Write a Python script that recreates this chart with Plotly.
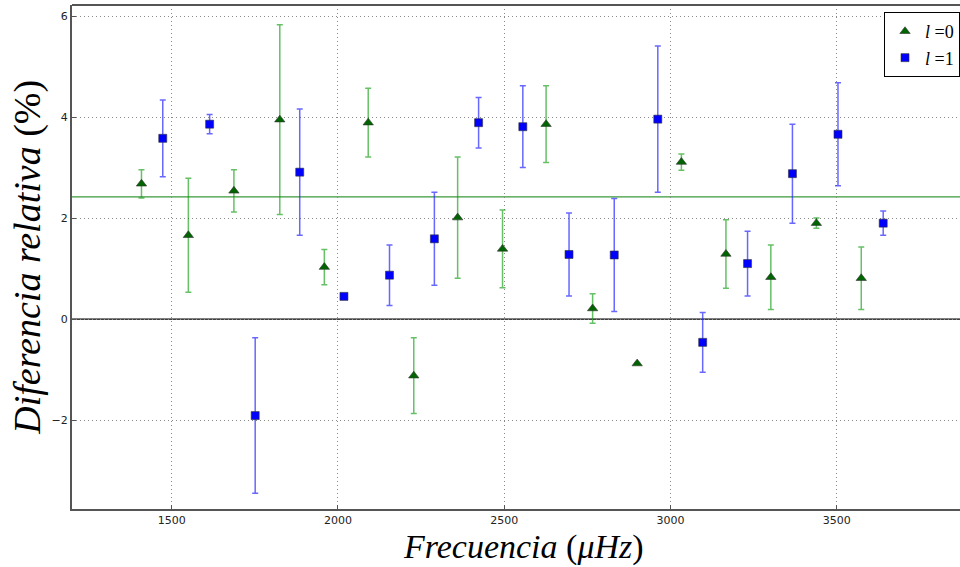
import plotly.graph_objects as go

# l = 0 modes: frequency (muHz), relative difference (%), error
freq_l0 = [1409, 1550, 1687, 1825, 1959, 2091, 2228, 2360, 2495, 2626,
           2766, 2900, 3033, 3167, 3302, 3439, 3574]
diff_l0 = [2.68, 1.66, 2.54, 3.95, 1.03, 3.89, -1.12, 2.01, 1.39, 3.86,
           0.21, -0.88, 3.11, 1.29, 0.83, 1.90, 0.81]
err_l0 = [0.28, 1.13, 0.42, 1.88, 0.35, 0.68, 0.75, 1.20, 0.77, 0.76,
          0.29, 0.0, 0.16, 0.68, 0.64, 0.10, 0.62]

# l = 1 modes
freq_l1 = [1473, 1614, 1751, 1885, 2018, 2155, 2290, 2423, 2556, 2695,
           2831, 2962, 3097, 3232, 3367, 3504, 3640]
diff_l1 = [3.58, 3.86, -1.91, 2.91, 0.45, 0.87, 1.59, 3.89, 3.81, 1.28,
           1.27, 3.96, -0.46, 1.10, 2.88, 3.66, 1.90]
err_l1 = [0.76, 0.19, 1.54, 1.25, 0.0, 0.60, 0.92, 0.50, 0.81, 0.82,
          1.12, 1.45, 0.59, 0.64, 0.98, 1.02, 0.24]

mean_level = 2.42
x_ticks = [1500, 2000, 2500, 3000, 3500]
y_ticks = [-2, 0, 2, 4, 6]

fig = go.Figure()

fig.add_trace(go.Scatter(
    x=freq_l0, y=diff_l0, mode="markers", name="<i>l</i> =0",
    marker=dict(symbol="triangle-up", size=9, color="#006400",
                line=dict(color="#333333", width=0.6)),
    error_y=dict(type="data", array=err_l0, visible=True,
                 color="rgba(0,150,0,0.6)", thickness=1.5, width=3),
))
fig.add_trace(go.Scatter(
    x=freq_l1, y=diff_l1, mode="markers", name="<i>l</i> =1",
    marker=dict(symbol="square", size=8, color="#0000ff",
                line=dict(color="#333333", width=0.6)),
    error_y=dict(type="data", array=err_l1, visible=True,
                 color="rgba(40,40,255,0.7)", thickness=1.5, width=3),
))

# reference lines
fig.add_shape(type="line", xref="paper", x0=0, x1=1, y0=0, y1=0,
              line=dict(color="black", width=1.2), layer="between")
fig.add_shape(type="line", xref="paper", x0=0, x1=1, y0=mean_level, y1=mean_level,
              line=dict(color="#3a9a3a", width=1.2), layer="between")
# top frame
fig.add_shape(type="line", xref="paper", yref="paper", x0=0, x1=1, y0=1, y1=1,
              line=dict(color="#555555", width=2))

tick_font = dict(family="DejaVu Sans", size=11, color="#222222")
grid_style = dict(showgrid=True, gridcolor="#8a8a8a", griddash="1px,3px", gridwidth=1)

fig.update_xaxes(range=[1200, 3871], tickvals=x_ticks, ticks="inside", ticklen=4,
                 tickcolor="#555555", showline=True, linecolor="#555555", linewidth=2,
                 zeroline=False, tickfont=tick_font, **grid_style)
fig.update_yaxes(range=[-3.76, 6.22], tickvals=y_ticks, ticks="inside", ticklen=4,
                 tickcolor="#555555", showline=True, linecolor="#555555", linewidth=2,
                 zeroline=False, tickfont=tick_font, **grid_style)

fig.add_annotation(text="<i>Frecuencia</i> (<i>μHz</i>)", xref="paper", yref="paper",
                   x=0.508, y=-0.076, xanchor="center", yanchor="middle",
                   showarrow=False,
                   font=dict(family="Liberation Serif", size=34, color="black"))
fig.add_annotation(text="<i>Diferencia relativa</i> (%)", xref="paper", yref="paper",
                   x=-0.051, y=0.5, xanchor="center", yanchor="middle", textangle=-90,
                   showarrow=False,
                   font=dict(family="Liberation Serif", size=38, color="black"))

fig.update_layout(
    width=960, height=567,
    margin=dict(l=72, r=0, t=5, b=58),
    paper_bgcolor="white", plot_bgcolor="white",
    showlegend=True,
    legend=dict(x=1, y=0.986, xanchor="right", yanchor="top",
                bgcolor="white", bordercolor="black", borderwidth=1,
                font=dict(family="Liberation Serif", size=18, color="black"),
                itemwidth=30, tracegroupgap=0),
)

fig.write_html("out.html")
